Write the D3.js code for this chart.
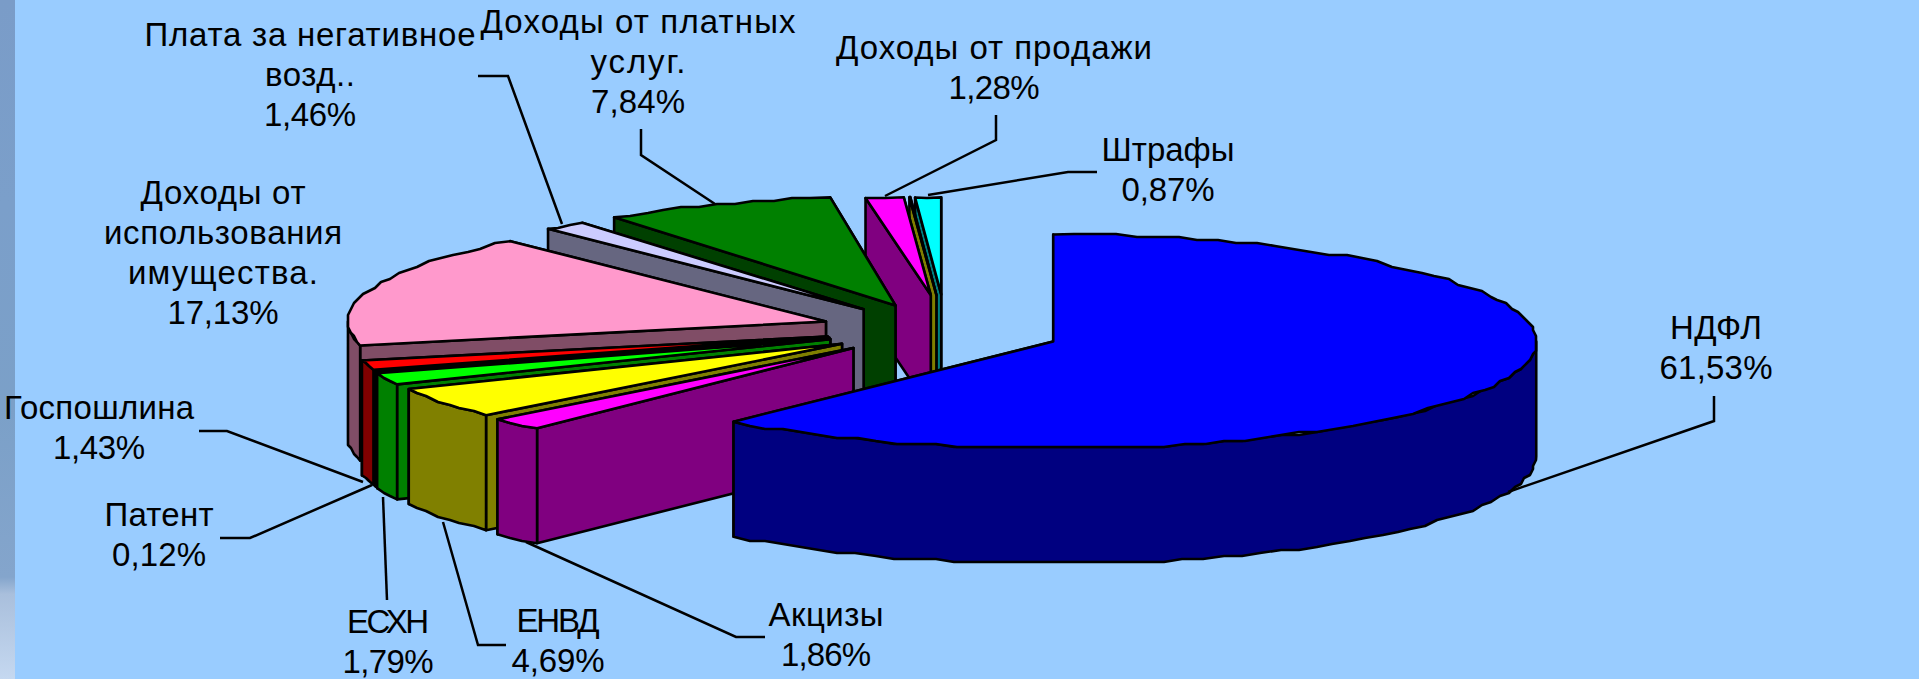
<!DOCTYPE html>
<html>
<head>
<meta charset="utf-8">
<title>Структура доходов</title>
<script src="https://cdn.jsdelivr.net/npm/d3@7"></script>
<style>
html, body { margin: 0; padding: 0; background: #99ccff; overflow: hidden; }
svg { display: block; }
text { font-family: "Liberation Sans", Arial, sans-serif; font-size: 33px; fill: #000; text-anchor: middle; }
</style>
</head>
<body>
<div id="chart"></div>
<script>
// values, clockwise from 12 o'clock
var categories = ["НДФЛ", "Акцизы", "ЕНВД", "ЕСХН", "Патент", "Госпошлина",
    "Доходы от использования имущества.", "Плата за негативное возд..",
    "Доходы от платных услуг.", "Доходы от продажи", "", "Штрафы"];
// the empty category is the unlabelled sliver between the last two slices
var shares = [61.53, 1.86, 4.69, 1.79, 0.12, 1.43, 17.13, 1.46, 7.84, 1.28, 0.03, 0.87];
var percentLabels = ["61,53%", "1,86%", "4,69%", "1,79%", "0,12%", "1,43%",
    "17,13%", "1,46%", "7,84%", "1,28%", "", "0,87%"];
var labelLines = [["НДФЛ"], ["Акцизы"], ["ЕНВД"], ["ЕСХН"], ["Патент"], ["Госпошлина"],
    ["Доходы от", "использования", "имущества."], ["Плата за негативное", "возд.."],
    ["Доходы от платных", "услуг."], ["Доходы от продажи"], [], ["Штрафы"]];

var topColors  = ["#0000ff", "#ff00ff", "#ffff00", "#00ff00", "#000000", "#ff0000",
    "#ff99cc", "#ccccff", "#008000", "#ff00ff", "#ffff00", "#00ffff"];
var sideColors = ["#000080", "#800080", "#808000", "#008000", "#000000", "#800000",
    "#804d66", "#666680", "#004000", "#800080", "#808000", "#008080"];

// pie geometry
var width = 1919, height = 679;
var origin = { x: 928, y: 329.5 };
var depth = 115;
var explodeX = 103, explodeY = 26;
// how far each slice is pulled out, and hand moves of the last slices
var explode = [1.3, 1, 1, 1, 1, 1, 1, 1, 1, 1.33, 1.33, 1.35];
var nudgeX  = [0, -2, 0, -2, -1, -1, -4, 0, 6, 16, 16, 17];
var radiusY = [107, 107, 107, 107, 107, 107, 107, 107, 109, 98, 98, 97];
var radiusX = [483, 478, 478, 478, 478, 478, 478, 478, 478, 478, 478, 478];

// label anchors: x centre, first baseline
var labelX = [1716, 826, 558, 388, 159, 99, 223, 310, 638, 994, 0, 1168];
var labelY = [339, 626, 632, 633, 526, 419, 204, 46, 33, 59, 0, 161];
var lineStep = 40;
// text widths of each label, name lines first, then the percent
var labelWidths = [[92, 113], [115, 90], [83, 93], [82, 91], [109, 94], [190, 92],
    [165, 238, 190, 111], [331, 90, 92], [315, 95, 94], [316, 91], [], [133, 93]];
// leader lines
var leaders = [
    [[1714, 396], [1714, 421], [1508, 492]],
    [[765, 637], [736, 637], [526, 542]],
    [[506, 645], [478, 645], [443, 522]],
    [[387, 600], [383, 497]],
    [[220, 538], [250, 538], [372, 485]],
    [[199, 431], [227, 431], [363, 482]],
    [],
    [[478, 76], [508, 76], [562, 224]],
    [[641, 129], [641, 155], [715, 204]],
    [[996, 115], [996, 140], [885, 196]],
    [],
    [[1097, 172], [1068, 172], [928, 195]]
];

var svg = d3.select("#chart").append("svg")
    .attr("width", width)
    .attr("height", height);

var defs = svg.append("defs");
var stripGrad = defs.append("linearGradient")
    .attr("id", "stripGrad")
    .attr("x1", "0%").attr("y1", "0%").attr("x2", "0%").attr("y2", "100%");
[[0, "#7a9cc8"], [0.3, "#7b9fca"], [0.6, "#7ba0c8"], [0.85, "#84a5cc"], [0.875, "#a9bfdc"], [1, "#c5d8f0"]]
    .forEach(function(s) {
        stripGrad.append("stop").attr("offset", s[0]).attr("stop-color", s[1]);
    });

svg.append("rect").attr("width", width).attr("height", height).attr("fill", "#99ccff");
svg.append("rect").attr("width", 15).attr("height", height).attr("fill", "url(#stripGrad)");

var arcs = d3.pie().sort(null).value(function(d) { return d; })(shares);

var line = d3.line();
var quant = 3;
function snap(v) { return Math.round(v / quant) * quant; }

var slices = arcs.map(function(a, i) {
    var mid = (a.startAngle + a.endAngle) / 2;
    return {
        i: i,
        a0: a.startAngle,
        a1: a.endAngle,
        rx: radiusX[i],
        ry: radiusY[i],
        tipX: origin.x + Math.sin(mid) * explodeX * explode[i] + nudgeX[i],
        tipY: origin.y - Math.cos(mid) * explodeY * explode[i]
    };
});

function rimPoint(s, angle) {
    return [s.tipX + Math.sin(angle) * s.rx, s.tipY - Math.cos(angle) * s.ry];
}

// coarse rim, the stepped outline of the old chart
function rim(s, from, to) {
    var stepAngle = 2.5 * Math.PI / 180;
    var n = Math.max(1, Math.ceil((to - from) / stepAngle));
    return d3.range(n + 1).map(function(k) {
        var p = rimPoint(s, from + (to - from) * k / n);
        return (k === 0 || k === n) ? p : [snap(p[0]), snap(p[1])];
    });
}

function down(p) { return [p[0], p[1] + depth]; }

function wall(s, angle) {
    var tip = [s.tipX, s.tipY];
    var p = rimPoint(s, angle);
    return [tip, p, down(p), down(tip)];
}

function drawFace(g, points, fill) {
    g.append("path")
        .attr("d", line(points) + "Z")
        .attr("fill", fill)
        .attr("stroke", "#000")
        .attr("stroke-width", 2.6)
        .attr("stroke-linejoin", "round");
}

// painter's order: back slices first, НДФЛ last
slices.slice().reverse().forEach(function(s) {
    var g = svg.append("g").attr("class", "slice");
    var side = sideColors[s.i];
    drawFace(g, wall(s, s.a1), side);
    drawFace(g, wall(s, s.a0), side);
    // outer wall only where the rim faces the viewer
    var from = Math.max(s.a0, Math.PI / 2), to = Math.min(s.a1, Math.PI * 1.5);
    if (to > from) {
        var r = rim(s, from, to);
        drawFace(g, r.concat(r.slice().reverse().map(down)), side);
    }
    drawFace(g, [[s.tipX, s.tipY]].concat(rim(s, s.a0, s.a1)), topColors[s.i]);
});

// leaders
svg.append("g").selectAll("path")
    .data(leaders.filter(function(d) { return d.length; }))
    .enter().append("path")
    .attr("d", line)
    .attr("fill", "none")
    .attr("stroke", "#000")
    .attr("stroke-width", 2.5);

// labels
categories.forEach(function(c, i) {
    if (!c) return;
    var lines = labelLines[i].concat([percentLabels[i]]);
    lines.forEach(function(t, k) {
        svg.append("text")
            .attr("x", labelX[i])
            .attr("y", labelY[i] + k * lineStep)
            .attr("textLength", labelWidths[i][k])
            .attr("lengthAdjust", "spacing")
            .text(t);
    });
});
</script>
</body>
</html>
